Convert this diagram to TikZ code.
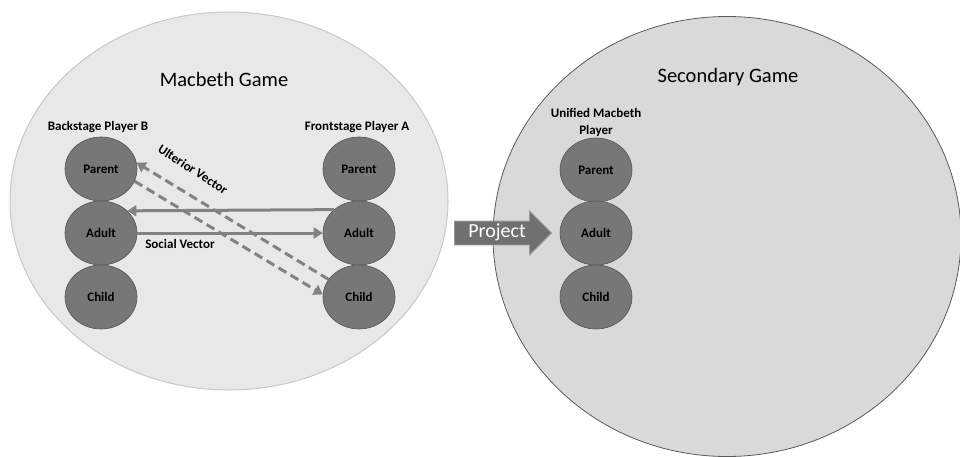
\documentclass[tikz,border=0pt]{standalone}
\usepackage{fontspec}
\setmainfont{Carlito}
\usetikzlibrary{shapes.geometric,shapes.arrows,arrows.meta}
\definecolor{outerL}{HTML}{E8E8E8}
\definecolor{outerLline}{HTML}{C8C8C8}
\definecolor{outerR}{HTML}{D9D9D9}
\definecolor{outerRline}{HTML}{5A5A5A}
\definecolor{egofill}{HTML}{777777}
\definecolor{egoline}{HTML}{555555}
\definecolor{vec}{HTML}{828282}
\definecolor{projfill}{HTML}{707070}
\definecolor{projline}{HTML}{9A9A9A}
\tikzset{
  ego/.style={ellipse, draw=egoline, line width=0.6pt, fill=egofill,
    minimum width=72pt, minimum height=64pt, inner sep=0pt,
    font=\bfseries\fontsize{13}{15}\selectfont},
  heading/.style={font=\bfseries\fontsize{13}{17}\selectfont, align=center, inner sep=0pt},
  title/.style={font=\fontsize{20.5}{24}\selectfont, inner sep=0pt},
  vecline/.style={draw=vec, line width=3pt, -{Triangle[length=9pt,width=11pt]}},
  ulterior/.style={vecline, dash pattern=on 9pt off 5pt},
  veclabel/.style={font=\bfseries\fontsize{13}{15}\selectfont, inner sep=0pt},
}
\begin{document}
\begin{tikzpicture}[x=1pt,y=-1pt]
  \useasboundingbox (0,0) rectangle (960,457);
  % the two game arenas
  \fill[outerL, draw=outerLline, line width=1pt] (229,201) ellipse [x radius=219, y radius=189];
  \fill[outerR, draw=outerRline, line width=0.8pt] (727,236.5) ellipse [x radius=234, y radius=220];
  \node[title] (mg) at (224,79) {Macbeth Game};
  \node[title] (sg) at (728,77) {Secondary Game};

  % player B (backstage)
  \node[heading] (hB) at (98,127) {Backstage Player B};
  \node[ego] (bP) at (101,169) {Parent};
  \node[ego] (bA) at (101,233) {Adult};
  \node[ego] (bC) at (101,297) {Child};

  % player A (frontstage)
  \node[heading] (hA) at (357,127) {Frontstage Player A};
  \node[ego] (fP) at (359,169) {Parent};
  \node[ego] (fA) at (359,233) {Adult};
  \node[ego] (fC) at (359,297) {Child};

  % unified player
  \node[heading] (hU) at (596,122.5) {Unified Macbeth\\Player};
  \node[ego] (uP) at (596,170) {Parent};
  \node[ego] (uA) at (596,233) {Adult};
  \node[ego] (uC) at (596,297) {Child};

  % social vectors
  \draw[vecline] (fA.137) -- (bA.40);
  \draw[vecline] (bA.east) -- (fA.west);
  \node[veclabel] (slab) at (180,244) {Social Vector};

  % ulterior vectors
  \draw[ulterior] (fC.150) -- (bP.10);
  \draw[ulterior] (bP.-20) -- (fC.176);
  \node[veclabel, rotate=-33] (ulab) at (193,169.5) {Ulterior Vector};

  % projection arrow
  \node[single arrow, fill=projfill, draw=projline, line width=0.8pt,
        single arrow head extend=10pt, minimum height=97pt,
        text height=13pt, text depth=4pt, inner ysep=3pt, inner xsep=3pt,
        anchor=tip, text=white, font=\fontsize{20}{22}\selectfont]
        (proj) at (552,233) {Project};
\end{tikzpicture}
\end{document}
